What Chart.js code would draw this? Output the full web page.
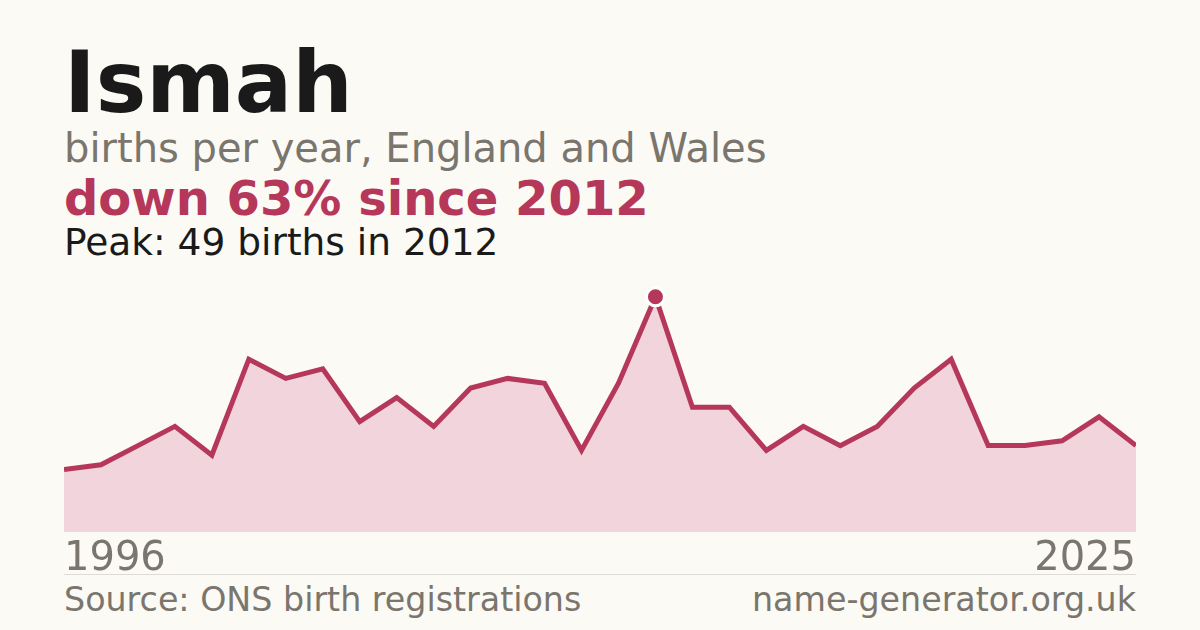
<!DOCTYPE html>
<html>
<head>
<meta charset="utf-8">
<script src="https://cdn.jsdelivr.net/npm/chart.js@4/dist/chart.umd.min.js"></script>
<style>
    html, body { margin: 0; padding: 0; }
    body {
        width: 1200px; height: 630px; overflow: hidden; position: relative;
        background: #fbfaf5; font-family: 'DejaVu Sans', sans-serif;
    }
    .txt { position: absolute; left: 64px; white-space: nowrap; line-height: 1; }
    #title { top: 40px; font-size: 85px; font-weight: bold; color: #1a1a1a; }
    #subtitle { top: 128px; font-size: 40px; color: #7a756d; }
    #change { top: 174px; font-size: 48px; font-weight: bold; color: #b5385a; }
    #peak { top: 224px; font-size: 37.5px; color: #1a1a1a; }
    #chart-wrap { position: absolute; left: 64px; top: 280px; width: 1072px; height: 300px; }
    #rule { position: absolute; left: 64px; top: 574px; width: 1072px; height: 1px; background: #dedbd3; }
    #source { top: 583px; font-size: 33.3px; color: #7a756d; }
    #site { position: absolute; right: 64px; top: 583px; font-size: 33.3px; color: #7a756d; line-height: 1; white-space: nowrap; }
</style>
</head>
<body>
<div id="title" class="txt">Ismah</div>
<div id="subtitle" class="txt">births per year, England and Wales</div>
<div id="change" class="txt">down 63% since 2012</div>
<div id="peak" class="txt">Peak: 49 births in 2012</div>
<div id="chart-wrap"><canvas id="chart"></canvas></div>
<div id="rule"></div>
<div id="source" class="txt">Source: ONS birth registrations</div>
<div id="site">name-generator.org.uk</div>
<script>
// Births per year, 1996-2025
const years = [1996, 1997, 1998, 1999, 2000, 2001, 2002, 2003, 2004, 2005,
               2006, 2007, 2008, 2009, 2010, 2011, 2012, 2013, 2014, 2015,
               2016, 2017, 2018, 2019, 2020, 2021, 2022, 2023, 2024, 2025];
const births = [13, 14, 18, 22, 16, 36, 32, 34, 23, 28,
                22, 30, 32, 31, 17, 31, 49, 26, 26, 17,
                22, 18, 22, 30, 36, 18, 18, 19, 24, 18];

const accent = '#b5385a';
const grey = '#7a756d';
const peakIndex = births.indexOf(Math.max(...births));

const ctx = document.getElementById('chart').getContext('2d');
new Chart(ctx, {
    type: 'line',
    data: {
        labels: years,
        datasets: [{
            data: births,
            borderColor: accent,
            borderWidth: 5,
            backgroundColor: '#f2d5dc',
            fill: 'origin',
            tension: 0,
            pointRadius: c => c.dataIndex === peakIndex ? 9 : 0,
            pointHoverRadius: 0,
            pointBackgroundColor: accent,
            pointBorderColor: '#ffffff',
            pointBorderWidth: 3,
            clip: false
        }]
    },
    options: {
        responsive: true,
        maintainAspectRatio: false,
        animation: false,
        events: [],
        layout: { padding: 0, autoPadding: false },
        plugins: {
            legend: { display: false },
            tooltip: { enabled: false }
        },
        scales: {
            x: {
                grid: { display: false },
                border: { display: false },
                ticks: {
                    autoSkip: false,
                    maxRotation: 0,
                    align: 'inner',
                    padding: 0,
                    color: grey,
                    font: { family: 'DejaVu Sans', size: 40, lineHeight: 1 },
                    callback: (v, i) => (i === 0 || i === years.length - 1) ? years[i] : ''
                }
            },
            y: {
                display: false,
                min: 0,
                max: 52.5
            }
        }
    }
});
</script>
</body>
</html>
